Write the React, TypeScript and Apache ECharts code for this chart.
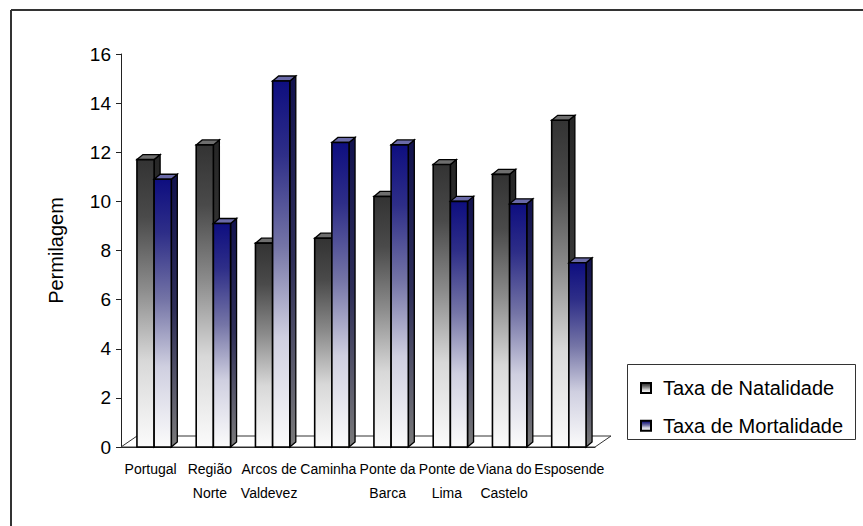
import React, { useEffect, useRef } from "react";
import * as echarts from "echarts";

const categories = [
  "Portugal",
  "Região\nNorte",
  "Arcos de\nValdevez",
  "Caminha",
  "Ponte da\nBarca",
  "Ponte de\nLima",
  "Viana do\nCastelo",
  "Esposende",
];
const natalidade = [11.7, 12.3, 8.3, 8.5, 10.2, 11.5, 11.1, 13.3];
const mortalidade = [10.9, 9.1, 14.9, 12.4, 12.3, 10.0, 9.9, 7.5];
const seriesNames = ["Taxa de Natalidade", "Taxa de Mortalidade"];
const yTicks = { min: 0, max: 16, interval: 2 };

const FONT = "'Liberation Sans', Arial, Helvetica, sans-serif";
const DEPTH_X = 6;
const DEPTH_Y = 5;

const grad = (stops: [number, string][]) =>
  new echarts.graphic.LinearGradient(
    0,
    0,
    0,
    1,
    stops.map(([offset, color]) => ({ offset, color }))
  );

const palettes = [
  {
    front: () =>
      grad([
        [0, "#333333"],
        [0.2, "#4a4a4a"],
        [0.45, "#8c8c8c"],
        [0.7, "#d8d8d8"],
        [1, "#fbfbfb"],
      ]),
    side: () =>
      grad([
        [0, "#262626"],
        [0.5, "#3a3a3a"],
        [1, "#7a7a7a"],
      ]),
    top: "#6e6e6e",
  },
  {
    front: () =>
      grad([
        [0, "#0e0e80"],
        [0.2, "#2e2e88"],
        [0.45, "#7474a6"],
        [0.7, "#cfcfe0"],
        [1, "#fbfbfb"],
      ]),
    side: () =>
      grad([
        [0, "#12124e"],
        [0.5, "#2e2e58"],
        [1, "#7a7a7a"],
      ]),
    top: "#6a6aa8",
  },
];

// Draws one bar as a front face, a right side face and a top face.
function barRenderer(seriesIdx: number) {
  const pal = palettes[seriesIdx];
  return (params: any, api: any) => {
    const cat = api.value(0);
    const val = api.value(1);
    const base = api.coord([cat, 0]);
    const top = api.coord([cat, val]);
    const bw = api.size([1, 0])[0];
    const barW = bw * 0.29;
    const x0 = base[0] - barW + 3.5 + seriesIdx * barW;
    const x1 = x0 + barW;
    const yT = top[1];
    const yB = base[1];
    const stroke = { stroke: "#000", lineWidth: 1.3 };
    return {
      type: "group",
      children: [
        {
          type: "polygon",
          shape: {
            points: [
              [x1, yB],
              [x1 + DEPTH_X, yB - DEPTH_Y],
              [x1 + DEPTH_X, yT - DEPTH_Y],
              [x1, yT],
            ],
          },
          style: { fill: pal.side(), ...stroke },
        },
        {
          type: "polygon",
          shape: {
            points: [
              [x0, yT],
              [x0 + DEPTH_X, yT - DEPTH_Y],
              [x1 + DEPTH_X, yT - DEPTH_Y],
              [x1, yT],
            ],
          },
          style: { fill: pal.top, ...stroke },
        },
        {
          type: "rect",
          shape: { x: x0, y: yT, width: barW, height: yB - yT },
          style: { fill: pal.front(), stroke: "#000", lineWidth: 1.6 },
        },
      ],
    };
  };
}

// Floor plane under the bars, spanning the category axis.
function floorRenderer(params: any) {
  const cs = params.coordSys;
  const xa = cs.x;
  const xb = cs.x + cs.width;
  const y0 = cs.y + cs.height;
  return {
    type: "polygon",
    shape: {
      points: [
        [xa, y0],
        [xb, y0],
        [xb + 16, y0 - 11],
        [xa + 16, y0 - 11],
      ],
    },
    style: { fill: "#ffffff", stroke: "#333", lineWidth: 1 },
    silent: true,
  };
}

// Neighbouring long labels get a little padding so they do not collide.
const labelPadding: Record<string, number[]> = {
  "Viana do\nCastelo": [0, 4, 0, 0],
  Esposende: [0, 0, 0, 8],
};

export default function App() {
  const ref = useRef<HTMLDivElement>(null);

  useEffect(() => {
    if (!ref.current) return;
    const chart = echarts.init(ref.current, undefined, { renderer: "svg" });

    chart.setOption({
      animation: false,
      backgroundColor: "#ffffff",
      textStyle: { fontFamily: FONT, color: "#000" },
      grid: { left: 121, right: 268, top: 54, bottom: 79 },
      xAxis: {
        type: "category",
        data: categories.map((c) =>
          labelPadding[c] ? { value: c, textStyle: { padding: labelPadding[c] } } : c
        ),
        boundaryGap: true,
        axisLine: { lineStyle: { color: "#222", width: 1 } },
        axisTick: { length: 6, lineStyle: { color: "#222" } },
        axisLabel: {
          interval: 0,
          fontSize: 14,
          lineHeight: 24,
          margin: 10,
          color: "#000",
          fontFamily: FONT,
        },
        splitLine: { show: false },
      },
      yAxis: {
        type: "value",
        min: yTicks.min,
        max: yTicks.max,
        interval: yTicks.interval,
        name: "Permilagem",
        nameLocation: "middle",
        nameRotate: 90,
        nameGap: 55,
        nameTextStyle: { fontSize: 20, color: "#000", fontFamily: FONT },
        axisLine: { show: true, lineStyle: { color: "#222", width: 1 } },
        axisTick: { show: true, length: 5, lineStyle: { color: "#222" } },
        axisLabel: { fontSize: 19, color: "#000", margin: 10, fontFamily: FONT },
        splitLine: { show: false },
      },
      legend: {
        data: seriesNames,
        orient: "vertical",
        left: 635,
        top: 373,
        itemWidth: 10,
        itemHeight: 10,
        itemGap: 17.7,
        icon: "rect",
        textStyle: {
          fontSize: 20,
          lineHeight: 20,
          color: "#000",
          fontFamily: FONT,
          padding: [0, 0, 0, 7],
        },
      },
      graphic: [
        {
          type: "line",
          shape: { x1: 11, y1: 10, x2: 870, y2: 10 },
          style: { stroke: "#333", lineWidth: 2 },
          silent: true,
        },
        {
          type: "line",
          shape: { x1: 11, y1: 10, x2: 11, y2: 540 },
          style: { stroke: "#333", lineWidth: 2 },
          silent: true,
        },
        {
          type: "rect",
          shape: { x: 627.5, y: 364.5, width: 228, height: 75 },
          style: { fill: "#fff", stroke: "#333", lineWidth: 1 },
          z: -1,
          silent: true,
        },
      ],
      series: [
        {
          type: "custom",
          name: "floor",
          renderItem: floorRenderer,
          data: [[0, 0]],
          z: 1,
          silent: true,
        },
        {
          type: "custom",
          name: seriesNames[0],
          renderItem: barRenderer(0),
          encode: { x: 0, y: 1 },
          data: natalidade.map((v, i) => [i, v]),
          itemStyle: { color: palettes[0].front(), borderColor: "#000", borderWidth: 1 },
          z: 2,
        },
        {
          type: "custom",
          name: seriesNames[1],
          renderItem: barRenderer(1),
          encode: { x: 0, y: 1 },
          data: mortalidade.map((v, i) => [i, v]),
          itemStyle: { color: palettes[1].front(), borderColor: "#000", borderWidth: 1 },
          z: 3,
        },
      ],
    });

    return () => chart.dispose();
  }, []);

  return (
    <div
      ref={ref}
      style={{ position: "absolute", left: 0, top: 0, width: 863, height: 526 }}
    />
  );
}
